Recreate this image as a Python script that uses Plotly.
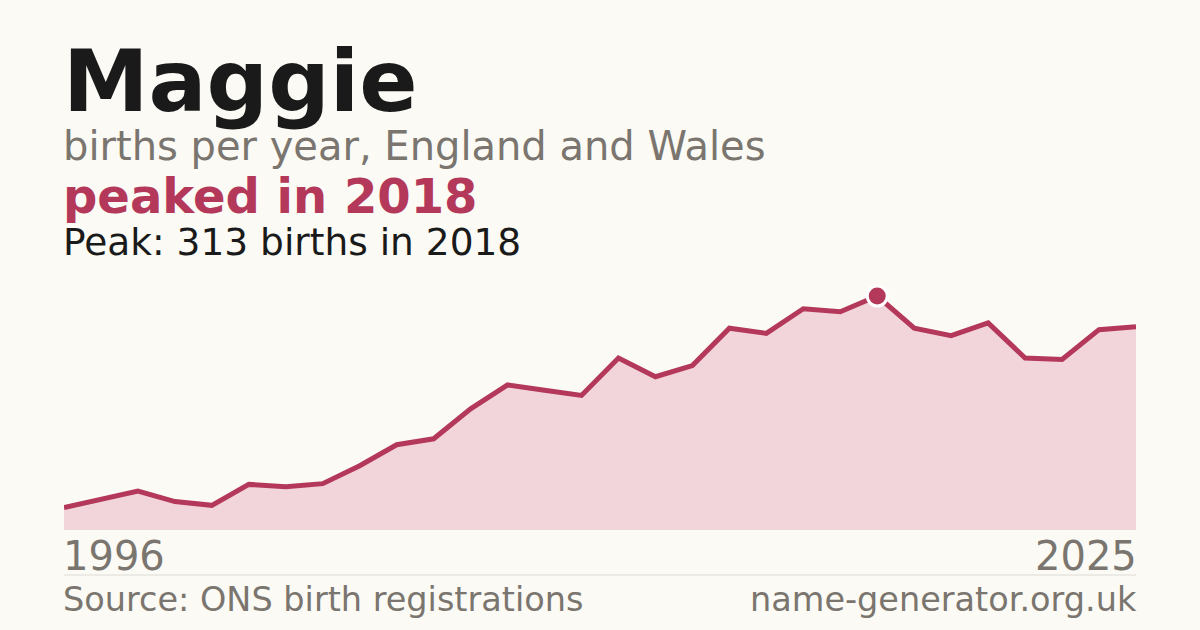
import plotly.graph_objects as go

# births per year for "Maggie", England and Wales
years = list(range(1996, 2026))
births = [30, 41, 52, 38, 33, 61, 58, 62, 86, 114,
          122, 162, 194, 187, 180, 230, 205, 220, 270, 263,
          296, 292, 313, 270, 260, 277, 230, 228, 268, 272]

peak_year = 2018
peak_births = 313
first_label = "1996"
last_label = "2025"

BG = "#fbfaf5"
ACCENT = "#b3385a"
FILL = "#f2d5da"
INK = "#1a1a1a"
GREY = "#7a756e"
FONT = "DejaVu Sans"

# plot area in pixels: x 64..1136, y 296..530
LEFT, RIGHT = 64, 1136
TOP, BOTTOM = 296, 530


def py(pix):
    # pixel row -> paper y
    return (BOTTOM - pix) / (BOTTOM - TOP)


def px(pix):
    # pixel column -> paper x
    return (pix - LEFT) / (RIGHT - LEFT)


fig = go.Figure()

fig.add_trace(go.Scatter(
    x=years, y=births, mode="lines",
    line=dict(color=ACCENT, width=5),
    fill="tozeroy", fillcolor=FILL,
    hoverinfo="skip",
))

fig.add_trace(go.Scatter(
    x=[peak_year], y=[peak_births], mode="markers",
    marker=dict(size=20, color=ACCENT, line=dict(color="white", width=3)),
    cliponaxis=False, hoverinfo="skip",
))


def label(text, y_pix, size, color, bold=False, x_pix=62, anchor="left"):
    fig.add_annotation(
        text=f"<b>{text}</b>" if bold else text,
        xref="paper", yref="paper", x=px(x_pix), y=py(y_pix),
        xanchor=anchor, yanchor="middle", showarrow=False, borderpad=0,
        font=dict(family=FONT, size=size, color=color),
    )


label("Maggie", 81, 86, INK, bold=True)
label("births per year, England and Wales", 146, 40, GREY)
label(f"peaked in {peak_year}", 196, 48, ACCENT, bold=True)
label(f"Peak: {peak_births} births in {peak_year}", 242, 37.5, INK)
label(first_label, 556, 40, GREY)
label(last_label, 556, 40, GREY, x_pix=1138, anchor="right")
label("Source: ONS birth registrations", 599, 33.5, GREY)
label("name-generator.org.uk", 599, 33.5, GREY, x_pix=1138, anchor="right")

fig.add_shape(type="line", xref="paper", yref="paper",
              x0=0, x1=1, y0=py(575), y1=py(575),
              line=dict(color="#dddad3", width=1))

fig.update_layout(
    width=1200, height=630,
    margin=dict(l=LEFT, r=1200 - RIGHT, t=TOP, b=630 - BOTTOM),
    paper_bgcolor=BG, plot_bgcolor=BG,
    showlegend=False,
    xaxis=dict(range=[1996, 2025], visible=False, fixedrange=True),
    yaxis=dict(range=[0, peak_births], visible=False, fixedrange=True),
)

fig.write_html("out.html", config={"displayModeBar": False},
               post_script="document.body.style.margin='0';")
